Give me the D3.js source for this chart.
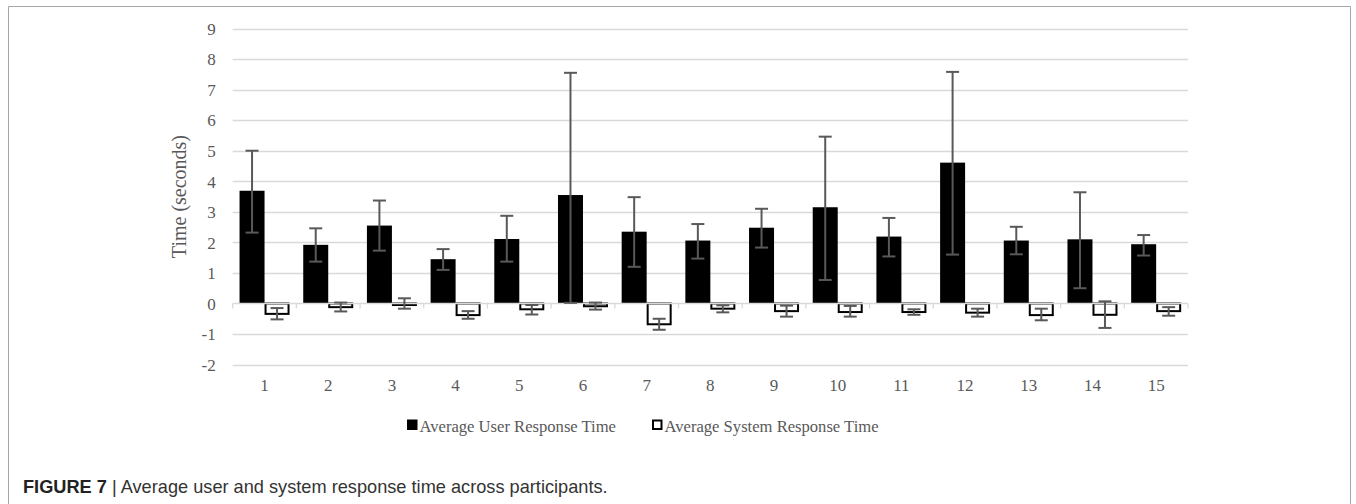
<!DOCTYPE html>
<html><head><meta charset="utf-8">
<script src="https://cdn.jsdelivr.net/npm/d3@7"></script>
<style>body{margin:0;background:#fff} svg{display:block}</style>
</head><body>
<svg id="chart" width="1356" height="504"></svg>
<script>
// ---- data ----
const categories = ["1","2","3","4","5","6","7","8","9","10","11","12","13","14","15"];
const seriesNames = ["Average User Response Time", "Average System Response Time"];
const userMeans    = [3.69, 1.92, 2.55, 1.45, 2.11, 3.55, 2.35, 2.06, 2.48, 3.15, 2.19, 4.61, 2.06, 2.10, 1.94];
const userErrLow   = [2.32, 1.37, 1.73, 1.10, 1.37, 0.02, 1.20, 1.47, 1.83, 0.77, 1.54, 1.60, 1.61, 0.50, 1.57];
const userErrHigh  = [5.00, 2.46, 3.37, 1.78, 2.87, 7.55, 3.48, 2.60, 3.10, 5.46, 2.80, 7.58, 2.51, 3.64, 2.24];
const systemMeans  = [-0.34, -0.12, -0.05, -0.38, -0.19, -0.09, -0.68, -0.17, -0.25, -0.28, -0.28, -0.30, -0.38, -0.37, -0.25];
const systemErrLow = [-0.52, -0.26, -0.17, -0.50, -0.36, -0.20, -0.86, -0.29, -0.43, -0.43, -0.37, -0.43, -0.55, -0.80, -0.40];
const systemErrHigh= [-0.15,  0.03,  0.17, -0.25, -0.05,  0.03, -0.50, -0.06, -0.07, -0.08, -0.19, -0.17, -0.17,  0.07, -0.12];
const yTicks = [-2, -1, 0, 1, 2, 3, 4, 5, 6, 7, 8, 9];
const yTitle = "Time (seconds)";
const captionBold = "FIGURE 7";
const captionText = " | Average user and system response time across participants.";

// ---- layout ----
const svg = d3.select("#chart");
const X0 = 232.7, X1 = 1188, YTOP = 28.5, YBOT = 364.6;
const gapFrac = 0.215;
const x = d3.scaleBand().domain(categories).range([X0, X1]).paddingInner(gapFrac).paddingOuter(gapFrac / 2);
const xs = d3.scaleBand().domain(["user", "system"]).range([0, x.bandwidth()]);
const y = d3.scaleLinear().domain([-2, 9]).range([YBOT, YTOP]);

const serif = "'Liberation Serif', 'Times New Roman', serif";
const sans = "'Liberation Sans', Arial, sans-serif";
const textGray = "#595959";
const gridGray = "#d9d9d9";

// border
svg.append("path")
  .attr("d", "M8.5,504 L8.5,6.5 L1350.5,6.5 L1350.5,504")
  .attr("fill", "none").attr("stroke", "#a6a6a6").attr("stroke-width", 1);

// gridlines (excluding zero)
svg.append("g").selectAll("line").data(yTicks.filter(d => d !== 0)).join("line")
  .attr("x1", X0).attr("x2", X1)
  .attr("y1", d => Math.round(y(d)) + 0.5).attr("y2", d => Math.round(y(d)) + 0.5)
  .attr("stroke", gridGray).attr("stroke-width", 1.3);

// y tick labels via axis
const yAxis = svg.append("g").attr("transform", `translate(${X0 - 17},0)`)
  .call(d3.axisLeft(y).tickValues(yTicks).tickSize(0).tickPadding(0).tickFormat(d => String(d)));
yAxis.select(".domain").remove();
yAxis.selectAll("text").attr("font-family", serif).attr("font-size", 17).attr("fill", textGray).attr("dy", "0.34em");

// y title
svg.append("text")
  .attr("transform", `translate(186,${(YTOP + YBOT) / 2}) rotate(-90)`)
  .attr("text-anchor", "middle").attr("font-family", serif).attr("font-size", 20)
  .attr("fill", textGray).text(yTitle);

// user bars
svg.append("g").selectAll("rect").data(categories).join("rect")
  .attr("x", d => x(d) + xs("user"))
  .attr("width", xs.bandwidth())
  .attr("y", (d, i) => y(Math.max(0, userMeans[i])))
  .attr("height", (d, i) => Math.abs(y(userMeans[i]) - y(0)))
  .attr("fill", "#000");

// system bars
svg.append("g").selectAll("rect").data(categories).join("rect")
  .attr("x", d => x(d) + xs("system") + 1)
  .attr("width", xs.bandwidth() - 2)
  .attr("y", (d, i) => y(Math.max(0, systemMeans[i])))
  .attr("height", (d, i) => Math.abs(y(systemMeans[i]) - y(0)))
  .attr("fill", "#fff").attr("stroke", "#000").attr("stroke-width", 2);

// zero axis line with outside ticks at category boundaries
const xAxis = svg.append("g").attr("transform", `translate(0,${Math.round(y(0)) + 0.5})`);
xAxis.append("line").attr("x1", X0).attr("x2", X1).attr("stroke", gridGray).attr("stroke-width", 1.3);
const bounds = categories.map(c => x(c) - x.step() * gapFrac / 2).concat([X1]);
xAxis.selectAll("line.tk").data(bounds).join("line").attr("class", "tk")
  .attr("x1", d => d).attr("x2", d => d).attr("y1", 0).attr("y2", 5)
  .attr("stroke", gridGray).attr("stroke-width", 1.3);

// x labels via axis
const xLab = svg.append("g").attr("transform", `translate(0,${YBOT})`)
  .call(d3.axisBottom(x).tickSize(0).tickPadding(0));
xLab.select(".domain").remove();
xLab.selectAll("text").attr("font-family", serif).attr("font-size", 17).attr("fill", textGray)
  .attr("dy", null).attr("y", 26);

// error bars
function errBars(key, lows, highs) {
  const g = svg.append("g").attr("stroke", textGray).attr("stroke-width", 2).attr("fill", "none");
  const cx = d => x(d) + xs(key) + xs.bandwidth() / 2;
  const capW = 6.5;
  g.selectAll("line.v").data(categories).join("line").attr("class", "v")
    .attr("x1", cx).attr("x2", cx)
    .attr("y1", (d, i) => y(lows[i])).attr("y2", (d, i) => y(highs[i]));
  g.selectAll("line.lo").data(categories).join("line").attr("class", "lo")
    .attr("x1", d => cx(d) - capW).attr("x2", d => cx(d) + capW)
    .attr("y1", (d, i) => y(lows[i])).attr("y2", (d, i) => y(lows[i]));
  g.selectAll("line.hi").data(categories).join("line").attr("class", "hi")
    .attr("x1", d => cx(d) - capW).attr("x2", d => cx(d) + capW)
    .attr("y1", (d, i) => y(highs[i])).attr("y2", (d, i) => y(highs[i]));
}
errBars("user", userErrLow, userErrHigh);
errBars("system", systemErrLow, systemErrHigh);

// legend
const leg = svg.append("g");
const legItems = [
  {name: seriesNames[0], sx: 407, fill: "#000"},
  {name: seriesNames[1], sx: 652, fill: "#fff"}
];
legItems.forEach(it => {
  leg.append("rect").attr("x", it.sx + 1).attr("y", 420.5).attr("width", 8.5).attr("height", 8.5)
    .attr("fill", it.fill).attr("stroke", "#000").attr("stroke-width", 2);
  leg.append("text").attr("x", it.sx + 12.5).attr("y", 432)
    .attr("font-family", serif).attr("font-size", 16.6).attr("fill", textGray).text(it.name);
});

// caption
const cap = svg.append("text").attr("x", 23).attr("y", 493).attr("font-family", sans).attr("font-size", 18.2).attr("fill", "#333");
cap.append("tspan").attr("font-weight", "bold").attr("fill", "#222").text(captionBold);
cap.append("tspan").text(captionText);
</script>
</body></html>
